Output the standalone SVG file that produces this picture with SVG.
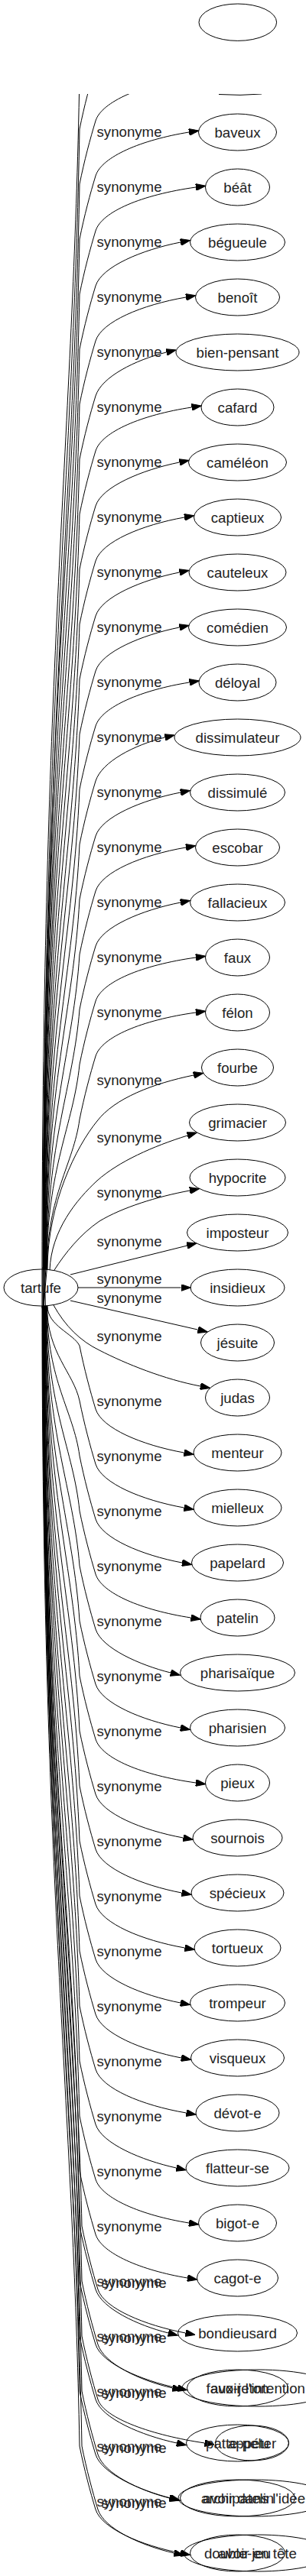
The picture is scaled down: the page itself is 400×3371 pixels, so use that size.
<svg xmlns="http://www.w3.org/2000/svg" width="400" height="3371" viewBox="0 0 400 3371">
<style>
.n ellipse{fill:none;stroke:#000;stroke-width:1}
text{font-family:"Liberation Sans",Arial,sans-serif;font-size:18.67px;fill:#222;text-anchor:middle}
.e path{fill:none;stroke:#000;stroke-width:1}
.e path.a{marker-end:url(#ar)}
</style>
<defs>
<marker id="ar" viewBox="0 0 13 9" refX="0" refY="4.5" markerWidth="13" markerHeight="9" markerUnits="userSpaceOnUse" orient="auto"><path d="M0,0 L13,4.5 L0,9 z" fill="#000" stroke="#000" stroke-width="1"/></marker>
<clipPath id="cl"><rect x="0" y="123" width="400" height="3248"/></clipPath>
</defs>
<rect x="0" y="0" width="400" height="3371" fill="#fff"/>
<g id="connectors" class="e" clip-path="url(#cl)">
<path d="M55,1712 L55,1661 C55,879 96,566 104,97 C110,67 118,37 125,14 C133,-11 185,-33 250,-43"/>
<path d="M57.5,1712 L56.5,1661 C56.5,915 96,617 104,169 C110,139 118,109 125,86 C133,61 185,39 250,29"/>
<path d="M59.5,1712 L58,1661 C58,951 96,667 104,241 C110,211 118,181 125,158 C133,133 185,111 250,101"/>
<path d="M286,123.5 Q314,125.5 342,123"/>
<path class="a" d="M56,1661 C56,987 96,717 104,313 C110,283 118,253 125,230 C133,205 185,183 247,173"/>
<path class="a" d="M56.5,1661 C56.5,1023 96,768 104,385 C110,355 118,325 125,302 C133,277 185,255 256,245"/>
<path class="a" d="M57,1661 C57,1059 96,818 104,457 C110,427 118,397 125,374 C133,349 185,327 236,317"/>
<path class="a" d="M57,1661 C57,1095 96,869 104,529 C110,499 118,469 125,446 C133,421 185,399 243,389"/>
<path class="a" d="M57.5,1661 C57.5,1131 96,919 104,601 C110,571 118,541 125,518 C133,493 177,471 217.5,461"/>
<path class="a" d="M57.5,1661 C57.5,1167 96,969 104,673 C110,643 118,613 125,590 C133,565 185,543 250.5,533"/>
<path class="a" d="M58,1661 C58,1203 96,1020 104,745 C110,715 118,685 125,662 C133,637 185,615 234.5,605"/>
<path class="a" d="M58.5,1661 C58.5,1239 96,1070 104,817 C110,787 118,757 125,734 C133,709 185,687 241,677"/>
<path class="a" d="M59,1661 C59,1275 96,1121 104,889 C110,859 118,829 125,806 C133,781 185,759 234.5,749"/>
<path class="a" d="M59,1661 C59,1311 96,1171 104,961 C110,931 118,901 125,878 C133,853 185,831 234.5,821"/>
<path class="a" d="M59.5,1661 C59.5,1347 96,1221 104,1033 C110,1003 118,973 125,950 C133,925 185,903 247.5,893"/>
<path class="a" d="M60,1661 C60,1383 96,1272 104,1105 C110,1075 118,1045 125,1022 C133,997 175,975 215.5,965"/>
<path class="a" d="M60,1661 C60,1419 96,1322 104,1177 C110,1147 118,1117 125,1094 C133,1069 185,1047 236,1037"/>
<path class="a" d="M60.5,1661 C60.5,1455 96,1373 104,1249 C110,1219 118,1189 125,1166 C133,1141 185,1119 243,1109"/>
<path class="a" d="M61,1661 C61,1491 96,1423 104,1321 C110,1291 118,1261 125,1238 C133,1213 185,1191 236,1181"/>
<path class="a" d="M61,1661 C61,1527 96,1473 104,1393 C110,1363 118,1333 125,1310 C133,1285 185,1263 256,1253"/>
<path class="a" d="M61.5,1661 C61.5,1563 96,1524 104,1465 C110,1435 118,1405 125,1382 C133,1357 185,1335 256,1325"/>
<path class="a" d="M62,1661 C62,1575 100,1500 127,1467 C150,1437 200,1418 253,1407"/>
<path class="a" d="M65,1662 C67,1610 100,1570 127,1545 C155,1520 200,1500 245,1486"/>
<path class="a" d="M71,1662 C85,1640 105,1615 130,1598 C160,1580 205,1566 248,1558"/>
<path class="a" d="M92,1668 L244.4,1630.1"/>
<path class="a" d="M102,1685 L236.5,1685"/>
<path class="a" d="M92,1702 L258.8,1740.1"/>
<path class="a" d="M70,1708 C85,1735 105,1755 130,1767 C165,1785 215,1805 262,1814"/>
<path class="a" d="M62,1709 C62,1735 96,1745 104,1761 C110,1791 118,1821 125,1844 C133,1869 185,1891 240.5,1901"/>
<path class="a" d="M61.5,1709 C61.5,1771 96,1796 104,1833 C110,1863 118,1893 125,1916 C133,1941 185,1963 240.5,1973"/>
<path class="a" d="M61.5,1709 C61.5,1807 96,1846 104,1905 C110,1935 118,1965 125,1988 C133,2013 185,2035 238,2045"/>
<path class="a" d="M61,1709 C61,1843 96,1897 104,1977 C110,2007 118,2037 125,2060 C133,2085 185,2107 249.5,2117"/>
<path class="a" d="M60.5,1709 C60.5,1879 96,1947 104,2049 C110,2079 118,2109 125,2132 C133,2157 183,2179 223,2189"/>
<path class="a" d="M60,1709 C60,1915 96,1997 104,2121 C110,2151 118,2181 125,2204 C133,2229 185,2251 236,2261"/>
<path class="a" d="M60,1709 C60,1951 96,2048 104,2193 C110,2223 118,2253 125,2276 C133,2301 185,2323 256,2333"/>
<path class="a" d="M59.5,1709 C59.5,1987 96,2098 104,2265 C110,2295 118,2325 125,2348 C133,2373 185,2395 239.5,2405"/>
<path class="a" d="M59,1709 C59,2023 96,2149 104,2337 C110,2367 118,2397 125,2420 C133,2445 185,2467 237.5,2477"/>
<path class="a" d="M59,1709 C59,2059 96,2199 104,2409 C110,2439 118,2469 125,2492 C133,2517 185,2539 241.5,2549"/>
<path class="a" d="M58.5,1709 C58.5,2095 96,2249 104,2481 C110,2511 118,2541 125,2564 C133,2589 185,2611 236,2621"/>
<path class="a" d="M58,1709 C58,2131 96,2300 104,2553 C110,2583 118,2613 125,2636 C133,2661 185,2683 237,2693"/>
<path class="a" d="M58,1709 C58,2167 96,2350 104,2625 C110,2655 118,2685 125,2708 C133,2733 185,2755 243.5,2765"/>
<path class="a" d="M57.5,1709 C57.5,2203 96,2401 104,2697 C110,2727 118,2757 125,2780 C133,2805 185,2827 230.5,2837"/>
<path class="a" d="M57,1709 C57,2239 96,2451 104,2769 C110,2799 118,2829 125,2852 C133,2877 185,2899 247,2909"/>
<path class="a" d="M57,1709 C57,2275 96,2501 104,2841 C110,2871 118,2901 125,2924 C133,2949 185,2971 245,2981"/>
<path class="a" d="M56.5,1709 C56.5,2311 96,2552 104,2913 C110,2943 118,2973 125,2996 C133,3021 180,3043 220,3053"/>
<path class="a" d="M56,1709 C56,2347 96,2602 104,2985 C110,3015 118,3045 125,3068 C133,3093 185,3115 232,3125"/>
<path class="a" d="M56,1709 C56,2383 96,2653 104,3057 C110,3087 118,3117 125,3140 C133,3165 185,3187 231,3197"/>
<path class="a" d="M55.5,1709 C55.5,2419 96,2703 104,3129 C110,3159 118,3189 125,3212 C133,3237 183,3259 223,3269"/>
<path class="a" d="M55,1709 C55,2455 96,2753 104,3201 C110,3231 118,3261 125,3284 C133,3309 185,3331 236,3341"/>
<path class="a" d="M58.5,1658 L57.5,1709 C57.5,2311 99,2552 107,2913 C113,2943 121,2973 128,2996 C136,3021 190,3043 242.5,3053"/>
<path class="a" d="M60,1658 L57,1709 C57,2347 99,2602 107,2985 C113,3015 121,3045 128,3068 C136,3093 182,3115 225.5,3125"/>
<path class="a" d="M61.5,1658 L57,1709 C57,2383 99,2653 107,3057 C113,3087 121,3117 128,3140 C136,3165 200,3187 267.5,3197"/>
<path class="a" d="M57,1658 L56.5,1709 C56.5,2419 99,2703 107,3129 C113,3159 121,3189 128,3212 C136,3237 182,3259 221.5,3269"/>
<path class="a" d="M56,1658 L56,1709 C56,2455 99,2753 107,3201 C113,3231 121,3261 128,3284 C136,3309 184,3331 227.5,3341"/>
</g>
<g id="edge-labels">
<text x="169" y="179">synonyme</text>
<text x="169" y="251">synonyme</text>
<text x="169" y="323">synonyme</text>
<text x="169" y="395">synonyme</text>
<text x="169" y="467">synonyme</text>
<text x="169" y="539">synonyme</text>
<text x="169" y="611">synonyme</text>
<text x="169" y="683">synonyme</text>
<text x="169" y="755">synonyme</text>
<text x="169" y="827">synonyme</text>
<text x="169" y="899">synonyme</text>
<text x="169" y="971">synonyme</text>
<text x="169" y="1043">synonyme</text>
<text x="169" y="1115">synonyme</text>
<text x="169" y="1187">synonyme</text>
<text x="169" y="1259">synonyme</text>
<text x="169" y="1331">synonyme</text>
<text x="169" y="1420">synonyme</text>
<text x="169" y="1495">synonyme</text>
<text x="169" y="1567">synonyme</text>
<text x="169" y="1631">synonyme</text>
<text x="169" y="1680">synonyme</text>
<text x="169" y="1705">synonyme</text>
<text x="169" y="1755">synonyme</text>
<text x="169" y="1840">synonyme</text>
<text x="169" y="1912">synonyme</text>
<text x="169" y="1984">synonyme</text>
<text x="169" y="2056">synonyme</text>
<text x="169" y="2128">synonyme</text>
<text x="169" y="2200">synonyme</text>
<text x="169" y="2272">synonyme</text>
<text x="169" y="2344">synonyme</text>
<text x="169" y="2416">synonyme</text>
<text x="169" y="2488">synonyme</text>
<text x="169" y="2560">synonyme</text>
<text x="169" y="2632">synonyme</text>
<text x="169" y="2704">synonyme</text>
<text x="169" y="2776">synonyme</text>
<text x="169" y="2848">synonyme</text>
<text x="169" y="2920">synonyme</text>
<text x="169" y="2992">synonyme</text>
<text x="169" y="3064">synonyme</text>
<text x="169" y="3136">synonyme</text>
<text x="169" y="3208">synonyme</text>
<text x="169" y="3280">synonyme</text>
<text x="175" y="2994">synonyme</text>
<text x="175" y="3066">synonyme</text>
<text x="175" y="3138">synonyme</text>
<text x="175" y="3210">synonyme</text>
<text x="175" y="3282">synonyme</text>
</g>
<g id="n-top" class="n"><ellipse cx="310.8" cy="29.2" rx="50.8" ry="24.2"/></g>
<g id="n-tartufe" class="n"><ellipse cx="53.5" cy="1685" rx="48.5" ry="24"/><text x="53.5" y="1691.5">tartufe</text></g>
<g id="n-baveux" class="n"><ellipse cx="310.5" cy="173" rx="51" ry="24"/><text x="310.5" y="179.5">baveux</text></g>
<g id="n-beat" class="n"><ellipse cx="310.5" cy="245" rx="42" ry="24"/><text x="310.5" y="251.5">béât</text></g>
<g id="n-begueule" class="n"><ellipse cx="310.5" cy="317" rx="62" ry="24"/><text x="310.5" y="323.5">bégueule</text></g>
<g id="n-benoit" class="n"><ellipse cx="310.5" cy="389" rx="55" ry="24"/><text x="310.5" y="395.5">benoît</text></g>
<g id="n-bien-pensant" class="n"><ellipse cx="310.5" cy="461" rx="80.5" ry="24"/><text x="310.5" y="467.5">bien-pensant</text></g>
<g id="n-cafard" class="n"><ellipse cx="310.5" cy="533" rx="47.5" ry="24"/><text x="310.5" y="539.5">cafard</text></g>
<g id="n-cameleon" class="n"><ellipse cx="310.5" cy="605" rx="64" ry="24"/><text x="310.5" y="611.5">caméléon</text></g>
<g id="n-captieux" class="n"><ellipse cx="310.5" cy="677" rx="57" ry="24"/><text x="310.5" y="683.5">captieux</text></g>
<g id="n-cauteleux" class="n"><ellipse cx="310.5" cy="749" rx="63.5" ry="24"/><text x="310.5" y="755.5">cauteleux</text></g>
<g id="n-comedien" class="n"><ellipse cx="310.5" cy="821" rx="64" ry="24"/><text x="310.5" y="827.5">comédien</text></g>
<g id="n-deloyal" class="n"><ellipse cx="310.5" cy="893" rx="50.5" ry="24"/><text x="310.5" y="899.5">déloyal</text></g>
<g id="n-dissimulateur" class="n"><ellipse cx="310.5" cy="965" rx="82.5" ry="24"/><text x="310.5" y="971.5">dissimulateur</text></g>
<g id="n-dissimule" class="n"><ellipse cx="310.5" cy="1037" rx="62" ry="24"/><text x="310.5" y="1043.5">dissimulé</text></g>
<g id="n-escobar" class="n"><ellipse cx="310.5" cy="1109" rx="55" ry="24"/><text x="310.5" y="1115.5">escobar</text></g>
<g id="n-fallacieux" class="n"><ellipse cx="310.5" cy="1181" rx="62" ry="24"/><text x="310.5" y="1187.5">fallacieux</text></g>
<g id="n-faux" class="n"><ellipse cx="310.5" cy="1253" rx="42" ry="24"/><text x="310.5" y="1259.5">faux</text></g>
<g id="n-felon" class="n"><ellipse cx="310.5" cy="1325" rx="42" ry="24"/><text x="310.5" y="1331.5">félon</text></g>
<g id="n-fourbe" class="n"><ellipse cx="310.5" cy="1397" rx="47" ry="24"/><text x="310.5" y="1403.5">fourbe</text></g>
<g id="n-grimacier" class="n"><ellipse cx="310.5" cy="1469" rx="63" ry="24"/><text x="310.5" y="1475.5">grimacier</text></g>
<g id="n-hypocrite" class="n"><ellipse cx="310.5" cy="1541" rx="62.5" ry="24"/><text x="310.5" y="1547.5">hypocrite</text></g>
<g id="n-imposteur" class="n"><ellipse cx="310.5" cy="1613" rx="66" ry="24"/><text x="310.5" y="1619.5">imposteur</text></g>
<g id="n-insidieux" class="n"><ellipse cx="310.5" cy="1685" rx="61.5" ry="24"/><text x="310.5" y="1691.5">insidieux</text></g>
<g id="n-jesuite" class="n"><ellipse cx="310.5" cy="1757" rx="48" ry="24"/><text x="310.5" y="1763.5">jésuite</text></g>
<g id="n-judas" class="n"><ellipse cx="310.5" cy="1829" rx="42" ry="24"/><text x="310.5" y="1835.5">judas</text></g>
<g id="n-menteur" class="n"><ellipse cx="310.5" cy="1901" rx="57.5" ry="24"/><text x="310.5" y="1907.5">menteur</text></g>
<g id="n-mielleux" class="n"><ellipse cx="310.5" cy="1973" rx="57.5" ry="24"/><text x="310.5" y="1979.5">mielleux</text></g>
<g id="n-papelard" class="n"><ellipse cx="310.5" cy="2045" rx="60" ry="24"/><text x="310.5" y="2051.5">papelard</text></g>
<g id="n-patelin" class="n"><ellipse cx="310.5" cy="2117" rx="48.5" ry="24"/><text x="310.5" y="2123.5">patelin</text></g>
<g id="n-pharisaique" class="n"><ellipse cx="310.5" cy="2189" rx="75" ry="24"/><text x="310.5" y="2195.5">pharisaïque</text></g>
<g id="n-pharisien" class="n"><ellipse cx="310.5" cy="2261" rx="62" ry="24"/><text x="310.5" y="2267.5">pharisien</text></g>
<g id="n-pieux" class="n"><ellipse cx="310.5" cy="2333" rx="42" ry="24"/><text x="310.5" y="2339.5">pieux</text></g>
<g id="n-sournois" class="n"><ellipse cx="310.5" cy="2405" rx="58.5" ry="24"/><text x="310.5" y="2411.5">sournois</text></g>
<g id="n-specieux" class="n"><ellipse cx="310.5" cy="2477" rx="60.5" ry="24"/><text x="310.5" y="2483.5">spécieux</text></g>
<g id="n-tortueux" class="n"><ellipse cx="310.5" cy="2549" rx="56.5" ry="24"/><text x="310.5" y="2555.5">tortueux</text></g>
<g id="n-trompeur" class="n"><ellipse cx="310.5" cy="2621" rx="62" ry="24"/><text x="310.5" y="2627.5">trompeur</text></g>
<g id="n-visqueux" class="n"><ellipse cx="310.5" cy="2693" rx="61" ry="24"/><text x="310.5" y="2699.5">visqueux</text></g>
<g id="n-devot-e" class="n"><ellipse cx="310.5" cy="2765" rx="54.5" ry="24"/><text x="310.5" y="2771.5">dévot-e</text></g>
<g id="n-flatteur-se" class="n"><ellipse cx="310.5" cy="2837" rx="67.5" ry="24"/><text x="310.5" y="2843.5">flatteur-se</text></g>
<g id="n-bigot-e" class="n"><ellipse cx="310.5" cy="2909" rx="51" ry="24"/><text x="310.5" y="2915.5">bigot-e</text></g>
<g id="n-cagot-e" class="n"><ellipse cx="310.5" cy="2981" rx="53" ry="24"/><text x="310.5" y="2987.5">cagot-e</text></g>
<g id="n-bondieusard" class="n"><ellipse cx="310.5" cy="3053" rx="78" ry="24"/><text x="310.5" y="3059.5">bondieusard</text></g>
<g id="n-faux-jeton" class="n"><ellipse cx="310.5" cy="3125" rx="66" ry="24"/><text x="310.5" y="3131.5">faux-jeton</text></g>
<g id="n-avoir-l-intention" class="n"><ellipse cx="337" cy="3125" rx="99" ry="24"/><text x="337" y="3131.5">avoir l'intention</text></g>
<g id="n-patte-pelu" class="n"><ellipse cx="310.5" cy="3197" rx="67" ry="24"/><text x="310.5" y="3203.5">patte-pelu</text></g>
<g id="n-appeter" class="n"><ellipse cx="329.5" cy="3197" rx="48" ry="23"/><text x="329.5" y="3203.5">appéter</text></g>
<g id="n-archipatelin" class="n"><ellipse cx="310.5" cy="3269" rx="75" ry="24"/><text x="310.5" y="3275.5">archipatelin</text></g>
<g id="n-avoir-dans-l-idee" class="n"><ellipse cx="332" cy="3269" rx="99" ry="24"/><text x="332" y="3275.5">avoir dans l'idée</text></g>
<g id="n-double-jeu" class="n"><ellipse cx="310.5" cy="3341" rx="62" ry="24"/><text x="310.5" y="3347.5">double-jeu</text></g>
<g id="n-avoir-en-tete" class="n"><ellipse cx="336.5" cy="3341" rx="96.5" ry="24"/><text x="336.5" y="3347.5">avoir en tête</text></g>
</svg>
